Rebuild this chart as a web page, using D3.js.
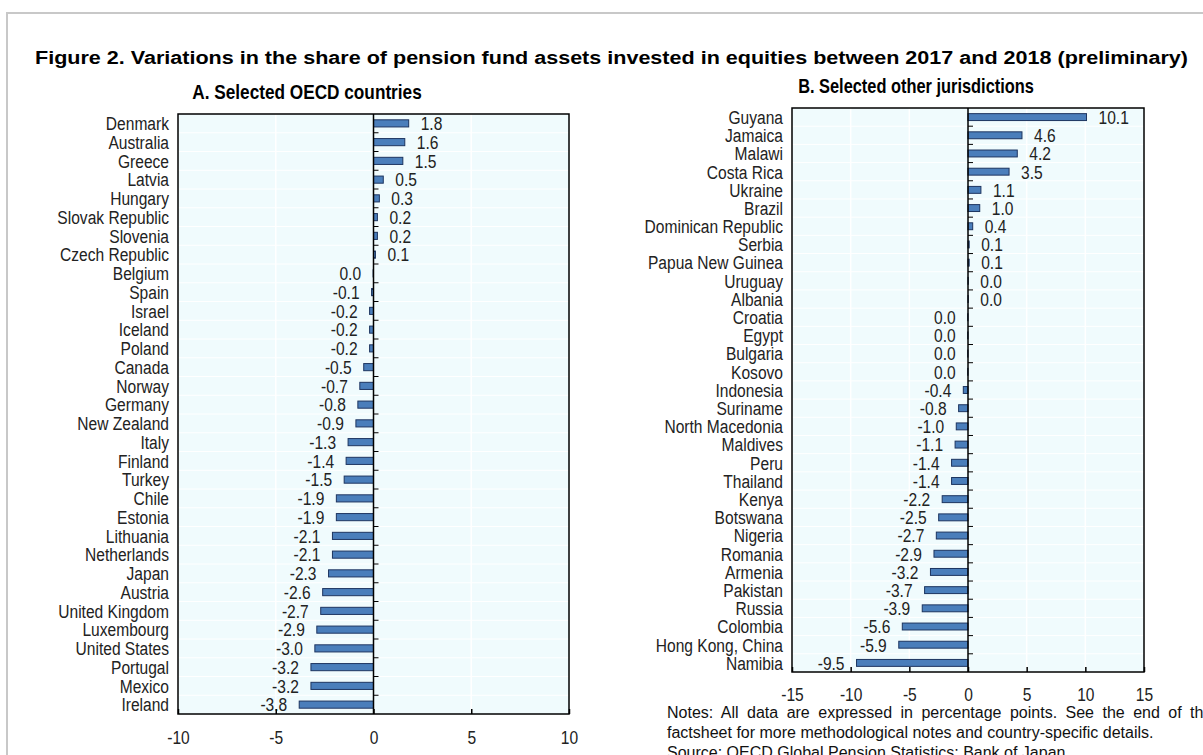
<!DOCTYPE html>
<html>
<head>
<meta charset="utf-8">
<script src="https://cdn.jsdelivr.net/npm/d3@7"></script>
<style>
    html, body { margin: 0; padding: 0; background: #fff; overflow: hidden; }
    #chart { position: relative; width: 1203px; height: 755px; }
    .notes { position: absolute; left: 667px; width: 548px; font-family: "Liberation Sans", Arial, sans-serif;
             font-size: 16px; line-height: 18px; color: #111; white-space: nowrap; }
    .notes.just { text-align: justify; text-align-last: justify; white-space: normal; }
</style>
</head>
<body>
<div id="chart"></div>
<script>
// Panel A
const oecdCountries = ['Denmark', 'Australia', 'Greece', 'Latvia', 'Hungary', 'Slovak Republic', 'Slovenia',
    'Czech Republic', 'Belgium', 'Spain', 'Israel', 'Iceland', 'Poland', 'Canada', 'Norway', 'Germany',
    'New Zealand', 'Italy', 'Finland', 'Turkey', 'Chile', 'Estonia', 'Lithuania', 'Netherlands', 'Japan',
    'Austria', 'United Kingdom', 'Luxembourg', 'United States', 'Portugal', 'Mexico', 'Ireland'];
const oecdValues = [1.8, 1.6, 1.5, 0.5, 0.3, 0.2, 0.2, 0.1, -0.02, -0.1, -0.2, -0.2, -0.2, -0.5, -0.7, -0.8,
    -0.9, -1.3, -1.4, -1.5, -1.9, -1.9, -2.1, -2.1, -2.3, -2.6, -2.7, -2.9, -3.0, -3.2, -3.2, -3.8];
const oecdTicks = [-10, -5, 0, 5, 10];

// Panel B
const otherJurisdictions = ['Guyana', 'Jamaica', 'Malawi', 'Costa Rica', 'Ukraine', 'Brazil', 'Dominican Republic',
    'Serbia', 'Papua New Guinea', 'Uruguay', 'Albania', 'Croatia', 'Egypt', 'Bulgaria', 'Kosovo', 'Indonesia',
    'Suriname', 'North Macedonia', 'Maldives', 'Peru', 'Thailand', 'Kenya', 'Botswana', 'Nigeria', 'Romania',
    'Armenia', 'Pakistan', 'Russia', 'Colombia', 'Hong Kong, China', 'Namibia'];
const otherValues = [10.1, 4.6, 4.2, 3.5, 1.1, 1.0, 0.4, 0.1, 0.1, 0.02, 0.02, -0.02, -0.02, -0.02, -0.02, -0.4,
    -0.8, -1.0, -1.1, -1.4, -1.4, -2.2, -2.5, -2.7, -2.9, -3.2, -3.7, -3.9, -5.6, -5.9, -9.5];
const otherTicks = [-15, -10, -5, 0, 5, 10, 15];

// no Arial Narrow available: squeeze Liberation Sans horizontally
const FONT = '"Liberation Sans", Arial, sans-serif';
const SX = 0.82;
const narrowAt = (x, y) => `translate(${x},${y}) scale(${SX},1)`;

const svg = d3.select('#chart')
    .append('svg')
    .attr('width', 1203)
    .attr('height', 755)
    .style('position', 'absolute')
    .style('left', 0)
    .style('top', 0);

// grey frame of the figure box
svg.append('path')
    .attr('d', 'M7,755 V13 H1203')
    .attr('fill', 'none')
    .attr('stroke', '#c8c8c8')
    .attr('stroke-width', 2);

svg.append('text')
    .attr('x', 35)
    .attr('y', 64)
    .attr('textLength', 1153)
    .attr('lengthAdjust', 'spacingAndGlyphs')
    .style('font-family', FONT)
    .style('font-weight', 'bold')
    .style('font-size', '18px')
    .text('Figure 2. Variations in the share of pension fund assets invested in equities between 2017 and 2018 (preliminary)');

class BarPanel {

    constructor(_config, _categories, _values, _ticks) {
        this.config = _config;
        this.categories = _categories;
        this.values = _values;
        this.ticks = _ticks;
        this.initVis();
    }

    initVis() {
        let vis = this;
        let c = vis.config;

        vis.x = d3.scaleLinear().domain(c.domain).range([c.left, c.right]);
        vis.y = d3.scaleBand().domain(vis.categories).range([c.top, c.bottom]).paddingInner(0.62).paddingOuter(0.31);
        vis.x0 = vis.x(0);
        vis.edge = d => vis.y(d) - vis.y.paddingInner() * vis.y.step() / 2;

        vis.g = svg.append('g');

        vis.g.append('text')
            .attr('transform', narrowAt(c.titleX, c.titleY))
            .attr('text-anchor', 'middle')
            .style('font-family', FONT)
            .style('font-weight', 'bold')
            .style('font-size', c.titleSize)
            .text(c.title);

        vis.g.append('rect')
            .attr('x', c.left)
            .attr('y', c.top)
            .attr('width', c.right - c.left)
            .attr('height', c.bottom - c.top)
            .attr('fill', '#f0fbfd');

        // white gridlines
        vis.g.selectAll('.hgrid')
            .data(vis.categories.slice(1))
            .enter()
            .append('line')
            .attr('x1', c.left).attr('x2', c.right)
            .attr('y1', vis.edge)
            .attr('y2', vis.edge)
            .attr('stroke', '#fff')
            .attr('stroke-width', 1);

        vis.g.selectAll('.vgrid')
            .data(vis.ticks.filter(t => t !== 0 && t !== c.domain[0] && t !== c.domain[1]))
            .enter()
            .append('line')
            .attr('x1', d => vis.x(d)).attr('x2', d => vis.x(d))
            .attr('y1', c.top).attr('y2', c.bottom)
            .attr('stroke', '#fff')
            .attr('stroke-width', 1.5);

        vis.renderVis();
    }

    renderVis() {
        let vis = this;
        let c = vis.config;
        let fmt = v => (Math.abs(v) < 0.05 ? 0 : v).toFixed(1);
        let mid = d => vis.y(d) + vis.y.bandwidth() / 2;

        vis.g.selectAll('.bar')
            .data(vis.categories)
            .enter()
            .append('rect')
            .attr('class', 'bar')
            .attr('x', (d, i) => Math.min(vis.x(vis.values[i]), vis.x0))
            .attr('y', d => vis.y(d))
            .attr('width', (d, i) => Math.abs(vis.x(vis.values[i]) - vis.x0))
            .attr('height', vis.y.bandwidth())
            .attr('fill', '#4a7ebb')
            .attr('stroke', '#1d3560')
            .attr('stroke-width', 1);

        vis.g.selectAll('.value')
            .data(vis.categories)
            .enter()
            .append('text')
            .attr('transform', (d, i) => narrowAt(vis.x(vis.values[i]) + (vis.values[i] >= 0 ? 12 : -12), mid(d)))
            .attr('dy', '0.36em')
            .attr('text-anchor', (d, i) => vis.values[i] >= 0 ? 'start' : 'end')
            .style('font-family', FONT)
            .style('font-size', '19px')
            .attr('fill', '#222')
            .text((d, i) => fmt(vis.values[i]));

        vis.g.selectAll('.cat')
            .data(vis.categories)
            .enter()
            .append('text')
            .attr('transform', d => narrowAt(c.left - 9, mid(d)))
            .attr('dy', '0.36em')
            .attr('text-anchor', 'end')
            .style('font-family', FONT)
            .style('font-size', '19px')
            .attr('fill', '#222')
            .text(d => d);

        // zero line with category ticks
        vis.g.append('line')
            .attr('x1', vis.x0).attr('x2', vis.x0)
            .attr('y1', c.top).attr('y2', c.bottom)
            .attr('stroke', '#000')
            .attr('stroke-width', 1.5);

        vis.g.selectAll('.ytick')
            .data(vis.categories.slice(1))
            .enter()
            .append('line')
            .attr('x1', vis.x0).attr('x2', vis.x0 + 5)
            .attr('y1', vis.edge)
            .attr('y2', vis.edge)
            .attr('stroke', '#000')
            .attr('stroke-width', 1);

        vis.g.append('rect')
            .attr('x', c.left)
            .attr('y', c.top)
            .attr('width', c.right - c.left)
            .attr('height', c.bottom - c.top)
            .attr('fill', 'none')
            .attr('stroke', '#000')
            .attr('stroke-width', 1.5);

        let axis = d3.axisBottom(vis.x)
            .tickValues(vis.ticks)
            .tickSize(-5)
            .tickPadding(c.tickPad)
            .tickFormat(d => String(d));

        let ax = vis.g.append('g')
            .attr('transform', `translate(0,${c.bottom})`)
            .call(axis);
        ax.select('.domain').remove();
        ax.selectAll('.tick line').attr('stroke', '#000').attr('stroke-width', 1.5);
        ax.selectAll('.tick text')
            .attr('transform', `scale(${SX},1)`)
            .style('font-family', FONT)
            .style('font-size', '19px')
            .attr('fill', '#222');
    }
}

new BarPanel({
    title: 'A. Selected OECD countries', titleX: 307, titleY: 99, titleSize: '21px',
    domain: [-10, 10], left: 178, right: 569, top: 114, bottom: 714, tickPad: 17
}, oecdCountries, oecdValues, oecdTicks);

new BarPanel({
    title: 'B. Selected other jurisdictions', titleX: 916, titleY: 93, titleSize: '20px',
    domain: [-15, 15], left: 792, right: 1144, top: 108, bottom: 672, tickPad: 16
}, otherJurisdictions, otherValues, otherTicks);

d3.select('#chart').append('div')
    .attr('class', 'notes just')
    .style('top', '704px')
    .text('Notes: All data are expressed in percentage points. See the end of this');
d3.select('#chart').append('div')
    .attr('class', 'notes')
    .style('top', '724px')
    .text('factsheet for more methodological notes and country-specific details.');
d3.select('#chart').append('div')
    .attr('class', 'notes')
    .style('top', '744px')
    .text('Source: OECD Global Pension Statistics; Bank of Japan.');
</script>
</body>
</html>
